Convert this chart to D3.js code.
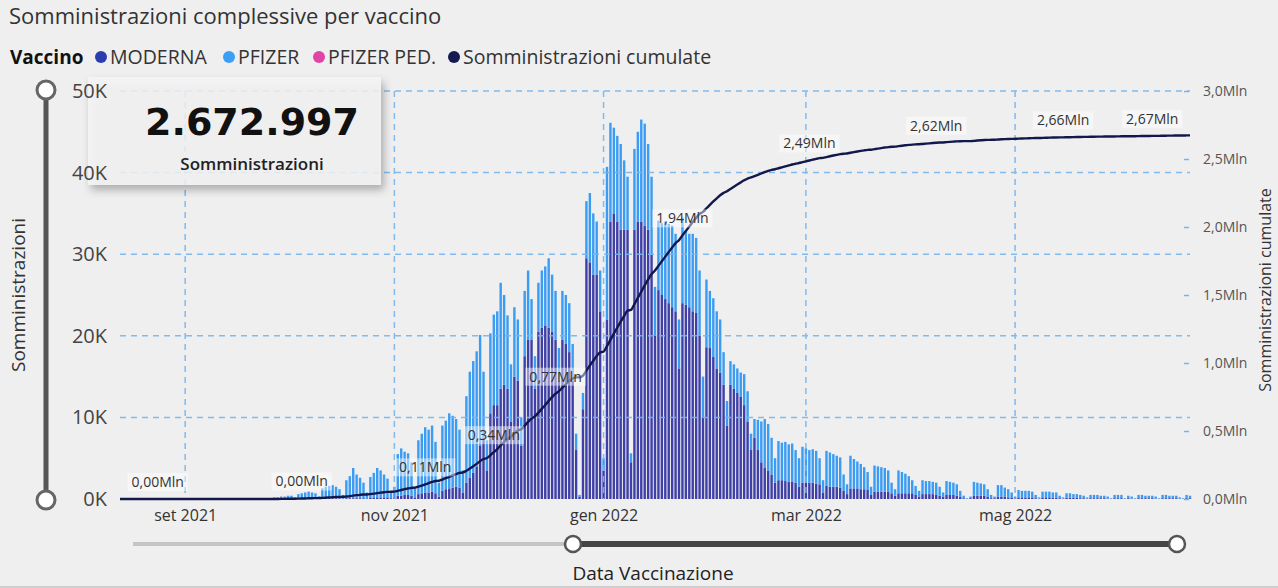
<!DOCTYPE html>
<html>
<head>
<meta charset="utf-8">
<script src="https://cdn.jsdelivr.net/npm/d3@7"></script>
<style>
  html, body { margin: 0; padding: 0; background: #efefef; }
  svg { display: block; font-family: "Open Sans", sans-serif; }
</style>
</head>
<body>
<svg id="chart"></svg>
<script>
const width = 1278, height = 588

const startDate = "2021-08-13"
const endDate = "2022-06-21"
const totalDoses = 2672997

// dosi giornaliere in migliaia, un valore per giorno da startDate
const modernaK = [
  // ago 13-31
  0,0,0,0,0,0,0,0,0,0,0,0,0,0,0,0,0,0,0,
  // set
  0,0,0,0,0,0,0,0,0,0,0,0,0,0,0,0,0,0,0,0,0,0,0,0,0,0,0,0,0,0,
  // ott
  0,0,0,0,0,0,0,0,0,0, 0.1,0.1,0.1,0.1,0.1,0.1,0, 0.1,0.1,0.1,0.1,0.1,0.1,0, 0.2,0.2,0.2,0.2,0.2,0.2,0.1,
  // nov
  0.2,0.4,0.4,0.5,0.5,0.4,0.2, 0.6,0.7,0.8,0.8,0.9,0.7,0.3, 1.0,1.2,1.3,1.4,1.5,1.4,0.8, 2.0,2.6,3.2,4.0,6.5,7.5,3.5, 10.5,11.5,
  // dic
  11.5,13.5,14,13.5,9.5, 15,14.5,6.5,17.5,19.5,19.5,13.5, 20.5,21,21.2,21,20.5,19.5,14.5, 19.5,19,18,14.5,6,0.3,11, 29.5,29,27.5,27.5,23,
  // gen
  3.5,22, 34,35,34,33,33,33,4.5, 33,34,34,33.5,33,30,20, 25.6,25,24.5,24,23.5,23,16, 24,23.8,23.5,23,22.8,20,10, 18.6,
  // feb
  18.5,17.4,16,15.5,14,9, 14,13.5,13,12.5,11.5,9.5,6, 7.5,6,4.5,3.8,3.5,3,2, 2.3,2.3,2.2,2.1,2.1,2,1.5, 2,
  // mar
  2,2,2,1.9,1.8,0.8, 1.6,1.5,1.5,1.5,1.4,1,0.6, 1.3,1.3,1.3,1.2,1.2,1.1,0.5, 0.9,0.9,0.9,0.9,0.9,0.7,0.4, 0.7,0.7,0.7,0.7,
  // apr
  0.7,0.5,0.3, 0.6,0.6,0.6,0.6,0.5,0.4,0.3, 0.5,0.5,0.5,0.4,0.3,0.1,0, 0.1,0.4,0.4,0.4,0.4,0.3,0.1, 0.1,0.3,0.3,0.3,0.2,0.2,
  // mag
  0.1, 0.2,0.2,0.2,0.2,0.2,0.1,0.05, 0.2,0.2,0.2,0.15,0.15,0.1,0.05, 0.15,0.15,0.15,0.15,0.1,0.1,0.05, 0.1,0.1,0.1,0.1,0.1,0.05,0.02, 0.1,0.1,
  // giu 1-21
  0.1,0.02,0.1,0.05,0.02, 0.1,0.1,0.1,0.1,0.1,0.05,0.02, 0.1,0.1,0.1,0.1,0.1,0.05,0.02, 0.1,0.1
]

const pfizerK = [
  // ago 13-31
  0,0,0,0,0,0,0,0,0,0,0,0,0,0,0,0,0,0,0,
  // set
  0,0,0,0,0,0,0,0,0,0,0,0,0,0,0,0,0,0,0,0,0,0,0,0,0, 0.1,0.2,0.2,0.3,0.3,
  // ott
  0.4,0.4,0.2,0.6,0.7,0.8,0.9,0.8,0.7,0.3, 1.2,1.4,1.5,1.6,1.4,1.1,0.5, 2.2,2.7,3.7,2.9,2.5,1.9,0.8, 2.5,3.0,3.6,3.3,2.8,2.3,0.8,
  // nov
  1.3,5.1,5.8,5.3,5.1,4.1,1.3, 6.6,7.3,8.0,7.7,8.1,6.3,1.7, 8.0,8.4,9.2,8.8,8.3,7.1,2.7, 10.6,13.0,13.7,14.1,13.6,8.1,3.7, 9.8,11.1,
  // dic
  11.5,13,11,9,7, 8.5,7.5,3.5,8,8.5,5,4, 6,7,7.3,8.5,7,6,4, 6,6,6,4.5,2,0.2,2, 7,8.5,7.5,6.5,5,
  // gen
  1.5,18.7, 12.1,10.5,10.5,10.5,8.5,6.5,1.1, 9.9,11,12.5,12.5,10.5,9.5,6, 8.5,8.8,9.5,9.7,10,9.5,6, 10.5,9,9,9.5,9.2,8,5, 8.3,
  // feb
  7,7.2,7,6.5,4,3, 2.9,3,3,3,3.8,3.7,2, 2.3,3.7,5,6,5.7,4.5,3, 4.8,4.6,4.8,4.6,4.7,4,3.5, 4.4,
  // mar
  4.2,4,4.1,4,3.2,1.5, 4.3,4.2,4,3.8,3.7,2,1.2, 4,3.6,3.3,3.1,2.7,2.2,1, 3.2,3.1,3,2.9,2.6,1.3,0.8, 2.8,2.6,2.4,2.1,
  // apr
  1.6,1.1,0.7, 1.7,1.6,1.6,1.5,1.5,1.1,0.5, 1.7,1.6,1.5,1.4,0.7,0.3,0.1, 0.2,1.7,1.6,1.5,1.4,0.9,0.4, 0.2,1.4,1.4,1.1,1.0,0.6,
  // mag
  0.2, 0.9,0.8,0.8,0.8,0.7,0.4,0.15, 0.7,0.7,0.7,0.65,0.65,0.3,0.15, 0.55,0.55,0.45,0.45,0.4,0.3,0.15, 0.4,0.4,0.4,0.3,0.3,0.25,0.08, 0.4,0.4,
  // giu 1-21
  0.4,0.08,0.3,0.25,0.08, 0.4,0.4,0.3,0.3,0.3,0.25,0.08, 0.4,0.4,0.3,0.3,0.3,0.15,0.08, 0.4,0.3
]

const monthTicks = ["2021-09-01", "2021-11-01", "2022-01-01", "2022-03-01", "2022-05-01"]
const monthLabels = ["set 2021", "nov 2021", "gen 2022", "mar 2022", "mag 2022"]
const leftTicks = [0, 10, 20, 30, 40, 50]
const rightTicks = [0, 500, 1000, 1500, 2000, 2500, 3000]
const labelDates = ["2021-08-24", "2021-10-05", "2021-11-10", "2021-11-30", "2021-12-18",
                    "2022-01-24", "2022-03-02", "2022-04-08", "2022-05-15", "2022-06-10"]

const legendItems = [
    {name: "MODERNA", color: "#2b3bb0", x: 101},
    {name: "PFIZER", color: "#3a9ff5", x: 229},
    {name: "PFIZER PED.", color: "#e044a7", x: 319},
    {name: "Somministrazioni cumulate", color: "#141a52", x: 454}
]

const colors = {moderna: "#3f3fa8", pfizer: "#3b9cf3", line: "#13184c", grid: "#74b5f0"}

const it = d3.formatLocale({decimal: ",", thousands: ".", grouping: [3], currency: ["€", ""]})
const fmtInt = it.format(",")
const fmtMln1 = v => it.format(".1f")(v / 1000) + "Mln"
const fmtMln2 = v => it.format(".2f")(v / 1000) + "Mln"

const parse = d3.utcParse("%Y-%m-%d")
const t0 = parse(startDate)

const rows = modernaK.map((m, i) => ({date: d3.utcDay.offset(t0, i), moderna: m, pfizer: pfizerK[i]}))
const cum = d3.cumsum(rows, r => r.moderna + r.pfizer)
rows.forEach((r, i) => r.cum = cum[i])

const x = d3.scaleUtc().domain([parse(startDate), parse(endDate)]).range([120, 1190])
const y = d3.scaleLinear().domain([0, 50]).range([499, 91])
const y2 = d3.scaleLinear().domain([0, 3000]).range([499, 91])

const svg = d3.select("svg#chart")
    .attr("width", width)
    .attr("height", height)
    .attr("viewBox", [0, 0, width, height])
    .style("background", "#efefef")

const defs = svg.append("defs")
defs.append("filter").attr("id", "shadow")
    .attr("x", "-10%").attr("y", "-10%").attr("width", "125%").attr("height", "135%")
    .append("feDropShadow")
    .attr("dx", 3).attr("dy", 5).attr("stdDeviation", 4)
    .attr("flood-color", "#000").attr("flood-opacity", 0.35)

// titolo
svg.append("text")
    .attr("x", 9).attr("y", 24)
    .attr("font-size", 22)
    .attr("fill", "#333")
    .text("Somministrazioni complessive per vaccino")

// legenda
svg.append("text")
    .attr("x", 10).attr("y", 64)
    .attr("font-size", 19).attr("font-weight", 700)
    .attr("fill", "#111")
    .text("Vaccino")

const legend = svg.selectAll("g.legend")
    .data(legendItems)
    .enter()
    .append("g").attr("class", "legend")

legend.append("circle")
    .attr("cx", d => d.x).attr("cy", 57).attr("r", 6)
    .attr("fill", d => d.color)

legend.append("text")
    .attr("x", d => d.x + 9).attr("y", 64)
    .attr("font-size", 19.5)
    .attr("fill", "#333")
    .text(d => d.name)

// barre impilate
const stacked = d3.stack().keys(["moderna", "pfizer"])(rows)
const bw = 2.4

svg.append("g")
    .selectAll("g")
    .data(stacked)
    .enter()
    .append("g")
    .attr("fill", d => colors[d.key])
    .selectAll("rect")
    .data(d => d.filter(p => p[1] > p[0]))
    .enter()
    .append("rect")
    .attr("x", d => x(d.data.date) - bw / 2)
    .attr("y", d => y(d[1]))
    .attr("width", bw)
    .attr("height", d => y(d[0]) - y(d[1]))

// griglia
const grid = svg.append("g")
    .attr("stroke", colors.grid)
    .attr("stroke-width", 1.5)
    .attr("stroke-dasharray", "6,5")
    .attr("opacity", 0.9)

grid.selectAll("line.h")
    .data(leftTicks.filter(d => d > 0))
    .enter()
    .append("line").attr("class", "h")
    .attr("x1", 120).attr("x2", 1190)
    .attr("y1", d => y(d)).attr("y2", d => y(d))

grid.selectAll("line.v")
    .data(monthTicks)
    .enter()
    .append("line").attr("class", "v")
    .attr("x1", d => x(parse(d))).attr("x2", d => x(parse(d)))
    .attr("y1", y(50)).attr("y2", y(0))

// scheda KPI (sotto le etichette degli assi)
svg.append("rect")
    .attr("x", 88).attr("y", 77)
    .attr("width", 293).attr("height", 108)
    .attr("fill", "#f6f6f6")
    .attr("fill-opacity", 0.8)
    .attr("filter", "url(#shadow)")

// assi
const axisLeft = svg.append("g")
    .attr("transform", "translate(120,0)")
    .call(d3.axisLeft(y).tickValues(leftTicks).tickFormat(d => d + "K").tickSize(0).tickPadding(13))
axisLeft.select(".domain").remove()
axisLeft.selectAll("text")
    .attr("font-family", "Open Sans")
    .attr("font-size", 20)
    .attr("fill", "#444")

const axisRight = svg.append("g")
    .attr("transform", "translate(1184,0)")
    .call(d3.axisRight(y2).tickValues(rightTicks).tickFormat(fmtMln1).tickSize(5).tickPadding(14))
axisRight.select(".domain").remove()
axisRight.selectAll("line")
    .attr("stroke", colors.grid)
    .attr("stroke-width", 1.5)
axisRight.selectAll("text")
    .attr("font-family", "Open Sans")
    .attr("font-size", 14)
    .attr("fill", "#555")

const axisBottom = svg.append("g")
    .attr("transform", "translate(0,499)")
    .call(d3.axisBottom(x).tickValues(monthTicks.map(parse)).tickFormat((d, i) => monthLabels[i]).tickSize(0).tickPadding(11))
axisBottom.select(".domain").remove()
axisBottom.selectAll("text")
    .attr("font-family", "Open Sans")
    .attr("font-size", 16)
    .attr("fill", "#333")

svg.append("text")
    .attr("transform", "translate(25,295) rotate(-90)")
    .attr("text-anchor", "middle")
    .attr("font-size", 19)
    .attr("fill", "#333")
    .text("Somministrazioni")

svg.append("text")
    .attr("transform", "translate(1271,290) rotate(-90)")
    .attr("text-anchor", "middle")
    .attr("font-size", 16)
    .attr("fill", "#333")
    .text("Somministrazioni cumulate")

// linea cumulata
const line = d3.line()
    .x(d => x(d.date))
    .y(d => y2(d.cum))
    .curve(d3.curveMonotoneX)

svg.append("path")
    .datum(rows)
    .attr("fill", "none")
    .attr("stroke", colors.line)
    .attr("stroke-width", 2.4)
    .attr("d", line)

// etichette dati
const labelRows = labelDates.map(s => rows.find(r => +r.date === +parse(s)))
const labels = svg.selectAll("g.dlabel")
    .data(labelRows)
    .enter()
    .append("g").attr("class", "dlabel")
    .attr("transform", d => `translate(${x(d.date)},${y2(d.cum) - 17})`)

labels.append("rect")
    .attr("x", -30).attr("y", -9)
    .attr("width", 60).attr("height", 18)
    .attr("fill", "#ffffff")
    .attr("opacity", 0.45)

labels.append("text")
    .attr("text-anchor", "middle")
    .attr("dy", "0.35em")
    .attr("font-size", 14)
    .attr("fill", "#333")
    .text(d => fmtMln2(d.cum))

labels.each(function () {
    const g = d3.select(this)
    const w = g.select("text").node().getComputedTextLength()
    g.select("rect").attr("x", -w / 2 - 4).attr("width", w + 8)
})

// valore KPI
svg.append("text")
    .attr("x", 252).attr("y", 135)
    .attr("text-anchor", "middle")
    .attr("font-family", "DejaVu Sans")
    .attr("font-weight", 700)
    .attr("font-size", 38)
    .attr("fill", "#111")
    .text(fmtInt(totalDoses))

svg.append("text")
    .attr("x", 252).attr("y", 170)
    .attr("text-anchor", "middle")
    .attr("font-size", 17)
    .attr("font-weight", 600)
    .attr("fill", "#222")
    .text("Somministrazioni")

// slider verticale
svg.append("line")
    .attr("x1", 46).attr("x2", 46).attr("y1", 90).attr("y2", 500)
    .attr("stroke", "#555").attr("stroke-width", 5)
svg.selectAll("circle.vknob")
    .data([90, 500])
    .enter()
    .append("circle").attr("class", "vknob")
    .attr("cx", 46).attr("cy", d => d).attr("r", 9)
    .attr("fill", "#fff").attr("stroke", "#666").attr("stroke-width", 3)

// slider orizzontale
svg.append("line")
    .attr("x1", 133).attr("x2", 573).attr("y1", 544).attr("y2", 544)
    .attr("stroke", "#c4c4c4").attr("stroke-width", 4)
svg.append("line")
    .attr("x1", 573).attr("x2", 1177).attr("y1", 544).attr("y2", 544)
    .attr("stroke", "#444").attr("stroke-width", 6)
svg.selectAll("circle.hknob")
    .data([573, 1177])
    .enter()
    .append("circle").attr("class", "hknob")
    .attr("cx", d => d).attr("cy", 544).attr("r", 8)
    .attr("fill", "#fff").attr("stroke", "#555").attr("stroke-width", 2.5)

svg.append("text")
    .attr("x", 653).attr("y", 580)
    .attr("text-anchor", "middle")
    .attr("font-size", 19)
    .attr("fill", "#222")
    .text("Data Vaccinazione")

// bordo
svg.append("line")
    .attr("x1", 0).attr("x2", width).attr("y1", 587).attr("y2", 587)
    .attr("stroke", "#cfcfcf").attr("stroke-width", 2)
</script>
</body>
</html>
